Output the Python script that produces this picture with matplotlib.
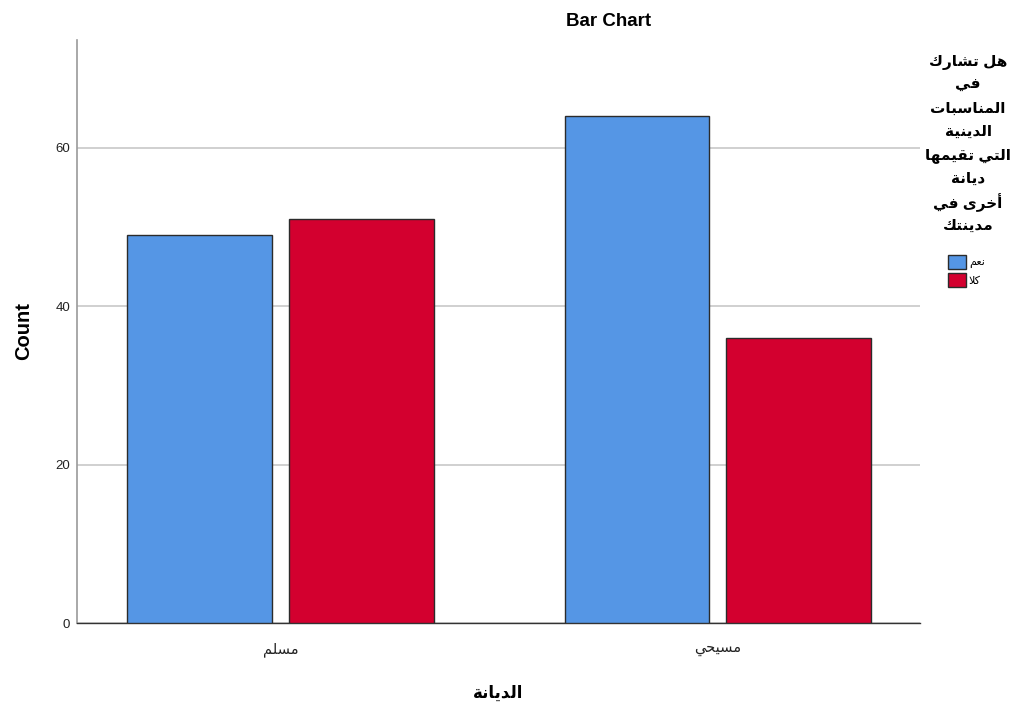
import matplotlib
matplotlib.use("Agg")
import matplotlib.pyplot as plt
from matplotlib.patches import Patch
import numpy as np

# ---- data ----
categories = ["مسلم", "مسيحي"]
series_names = ["نعم", "كلا"]
values_yes = [49, 64]
values_no = [51, 36]
x_title = "الديانة"
y_title = "Count"
chart_title = "Bar Chart"
legend_title_lines = ["هل تشارك", "في", "المناسبات", "الدينية", "التي تقيمها", "ديانة", "أخرى في", "مدينتك"]
yticks = [0, 20, 40, 60]

# ---- minimal Arabic shaping ----
DUAL = {'ب': 0xFE8F, 'ت': 0xFE95, 'ث': 0xFE99, 'ج': 0xFE9D, 'ح': 0xFEA1, 'خ': 0xFEA5,
        'س': 0xFEB1, 'ش': 0xFEB5, 'ع': 0xFEC9, 'ف': 0xFED1, 'ق': 0xFED5, 'ك': 0xFED9,
        'ل': 0xFEDD, 'م': 0xFEE1, 'ن': 0xFEE5, 'ه': 0xFEE9, 'ي': 0xFEF1}
RIGHT = {'ا': 0xFE8D, 'أ': 0xFE83, 'د': 0xFEA9, 'ر': 0xFEAD, 'ة': 0xFE93, 'ى': 0xFEEF, 'و': 0xFEED}
LAMALEF = {'ا': 0xFEFB, 'أ': 0xFEF7}


def shape(s):
    out = []
    i = 0
    n = len(s)
    while i < n:
        c = s[i]
        prev = s[i - 1] if i > 0 else ''
        pc = prev in DUAL
        if c == 'ل' and i + 1 < n and s[i + 1] in LAMALEF:
            out.append(chr(LAMALEF[s[i + 1]] + (1 if pc else 0)))
            i += 2
            continue
        if c in DUAL:
            nc = i + 1 < n and (s[i + 1] in DUAL or s[i + 1] in RIGHT)
            f = DUAL[c] + (3 if (pc and nc) else 1 if pc else 2 if nc else 0)
        elif c in RIGHT:
            f = RIGHT[c] + (1 if pc else 0)
        else:
            f = ord(c)
        out.append(chr(f))
        i += 1
    return ''.join(reversed(out))


FAM = ['Liberation Sans', 'DejaVu Sans']
plt.rcParams['font.family'] = FAM

blue = '#5596E5'
red = '#D3002F'
edge = '#2b2b2b'

fig = plt.figure(figsize=(10.17, 7.04), dpi=100)
ax = fig.add_axes([77 / 1017, 1 - 623 / 704, (920 - 77) / 1017, (623 - 40) / 704])

x = np.arange(len(categories))
w = 0.331
off = 0.185
ax.bar(x - off, values_yes, w, color=blue, edgecolor=edge, linewidth=1.0, zorder=3)
ax.bar(x + off, values_no, w, color=red, edgecolor=edge, linewidth=1.0, zorder=3)

ax.set_xlim(-0.465, 1.462)
ax.set_ylim(0, 73.6)
ax.set_yticks(yticks)
ax.set_yticklabels([str(v) for v in yticks], fontsize=9.5, color='#222222')
ax.set_xticks(x)
ax.set_xticklabels([shape(c) for c in categories], fontsize=10.5, color='#222222')
ax.tick_params(axis='x', length=0, pad=14)
ax.tick_params(axis='y', length=0, pad=5)
ax.yaxis.grid(True, color='#c8c8c8', linewidth=1.2, zorder=0)
ax.set_axisbelow(True)

for s in ['top', 'right']:
    ax.spines[s].set_visible(False)
ax.spines['left'].set_color('#9a9a9a')
ax.spines['left'].set_linewidth(1.2)
ax.spines['bottom'].set_color('#333333')
ax.spines['bottom'].set_linewidth(1.0)

ax.set_xlabel(shape(x_title), fontsize=12, fontweight='bold', labelpad=20)
ax.set_ylabel(y_title, fontsize=14.5, fontweight='bold', labelpad=16)

fig.text(609 / 1017, 1 - 21 / 704, chart_title, ha='center', va='center',
         fontsize=13.5, fontweight='bold')

# legend title, one line at a time
for k, line in enumerate(legend_title_lines):
    fig.text(968 / 1017, 1 - (62 + k * 23.4) / 704, shape(line), ha='center',
             va='center', fontsize=11, fontweight='bold')

handles = [Patch(facecolor=blue, edgecolor=edge), Patch(facecolor=red, edgecolor=edge)]
fig.legend(handles, [shape(s) for s in series_names], loc='upper left',
           bbox_to_anchor=(940 / 1017, 1 - 247 / 704), frameon=False, fontsize=8,
           handlelength=1.65, handleheight=1.65, handletextpad=0.25, labelspacing=0.3,
           borderpad=0.2)

fig.savefig('out.png', dpi=100)
